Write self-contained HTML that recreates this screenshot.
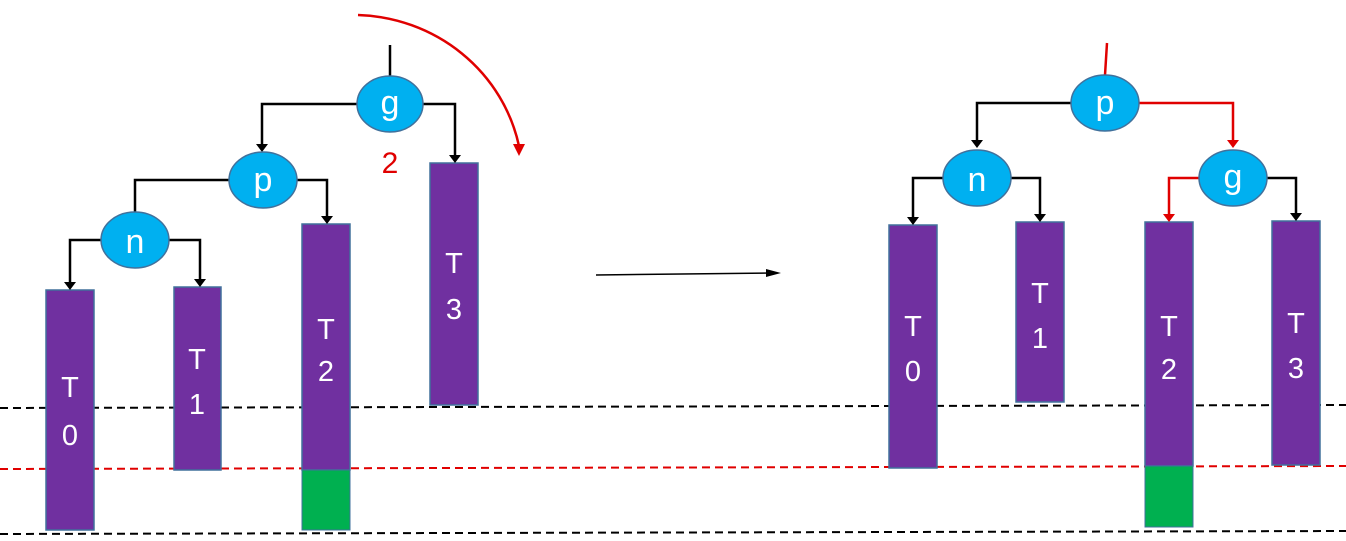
<!DOCTYPE html>
<html><head><style>
html,body{margin:0;padding:0;background:#fff;}
svg{display:block;}
text{font-family:"Liberation Sans",sans-serif;}
</style></head><body>
<svg width="1346" height="541" viewBox="0 0 1346 541" xmlns="http://www.w3.org/2000/svg">
<g stroke-dasharray="8,5" stroke-width="2" fill="none">
<line x1="0" y1="408" x2="1346" y2="405" stroke="#000"/>
<line x1="0" y1="469" x2="1346" y2="466" stroke="#e00000"/>
<line x1="0" y1="534" x2="1346" y2="531" stroke="#000"/>
</g>
<g fill="#7030a0" stroke="#41719c" stroke-width="1.5">
<rect x="46" y="290" width="48" height="240"/>
<rect x="174" y="287" width="47" height="183"/>
<rect x="302" y="224" width="48" height="246"/>
<rect x="430" y="163" width="48" height="242"/>
<rect x="889" y="225" width="48" height="243"/>
<rect x="1016" y="222" width="48" height="180"/>
<rect x="1145" y="222" width="48" height="244"/>
<rect x="1272" y="221" width="48" height="244"/>
</g>
<g fill="#00b050" stroke="#41719c" stroke-width="1">
<rect x="302" y="470" width="48" height="60"/>
<rect x="1145" y="466" width="48" height="61"/>
</g>
<g fill="#fff" font-size="29" text-anchor="middle">
<text x="70" y="397">T</text><text x="70" y="445">0</text>
<text x="197" y="369">T</text><text x="197" y="414">1</text>
<text x="326" y="339">T</text><text x="326" y="381">2</text>
<text x="454" y="273">T</text><text x="454" y="319">3</text>
<text x="913" y="336">T</text><text x="913" y="381">0</text>
<text x="1040" y="303">T</text><text x="1040" y="348">1</text>
<text x="1169" y="336">T</text><text x="1169" y="379">2</text>
<text x="1296" y="333">T</text><text x="1296" y="378">3</text>
</g>
<g stroke="#000" stroke-width="2.5" fill="none">
<line x1="390" y1="45" x2="390" y2="76"/>
<polyline points="357,104 262,104 262,145"/>
<polyline points="423,104 455,104 455,156"/>
<polyline points="229,180 135,180 135,214"/>
<polyline points="297,180 327,180 327,217"/>
<polyline points="101,240 70,240 70,283"/>
<polyline points="169,240 200,240 200,280"/>
<polyline points="1071,103 977,103 977,141"/>
<polyline points="943,178 913,178 913,218"/>
<polyline points="1011,178 1040,178 1040,215"/>
<polyline points="1267,178 1296,178 1296,214"/>
</g>
<g stroke="#e00000" stroke-width="2.5" fill="none">
<line x1="1107" y1="43" x2="1105" y2="75"/>
<polyline points="1139,103 1233,103 1233,141"/>
<polyline points="1199,178 1169,178 1169,215"/>
<path d="M358,15 A170,165 0 0 1 519,146"/>
</g>
<g fill="#000">
<path d="M256,144 L268,144 L262,152 Z"/>
<path d="M449,155 L461,155 L455,163 Z"/>
<path d="M129,213 L141,213 L135,222 Z"/>
<path d="M321,216 L333,216 L327,224 Z"/>
<path d="M64,282 L76,282 L70,290 Z"/>
<path d="M194,279 L206,279 L200,287 Z"/>
<path d="M971,140 L983,140 L977,148 Z"/>
<path d="M907,217 L919,217 L913,225 Z"/>
<path d="M1034,214 L1046,214 L1040,222 Z"/>
<path d="M1290,213 L1302,213 L1296,221 Z"/>
</g>
<g fill="#e00000">
<path d="M1227,140 L1239,140 L1233,148 Z"/>
<path d="M1163,214 L1175,214 L1169,222 Z"/>
<path d="M513,144 L525,144 L519,156 Z"/>
</g>
<text x="390" y="173" fill="#e00000" font-size="30" text-anchor="middle">2</text>
<line x1="596" y1="275" x2="770" y2="273" stroke="#000" stroke-width="1.5"/>
<path d="M766,269 L781,273 L766,277 Z" fill="#000"/>
<g fill="#00b0f0" stroke="#41719c" stroke-width="1.5">
<ellipse cx="390" cy="104" rx="33" ry="28"/>
<ellipse cx="263" cy="180" rx="34" ry="28"/>
<ellipse cx="135" cy="240" rx="34" ry="28"/>
<ellipse cx="1105" cy="103" rx="34" ry="28"/>
<ellipse cx="977" cy="178" rx="34" ry="28"/>
<ellipse cx="1233" cy="178" rx="34" ry="28"/>
</g>
<g fill="#fff" font-size="34" text-anchor="middle">
<text x="390" y="114">g</text>
<text x="263" y="191">p</text>
<text x="135" y="253">n</text>
<text x="1105" y="114">p</text>
<text x="977" y="191">n</text>
<text x="1233" y="188">g</text>
</g>
</svg>
</body></html>
